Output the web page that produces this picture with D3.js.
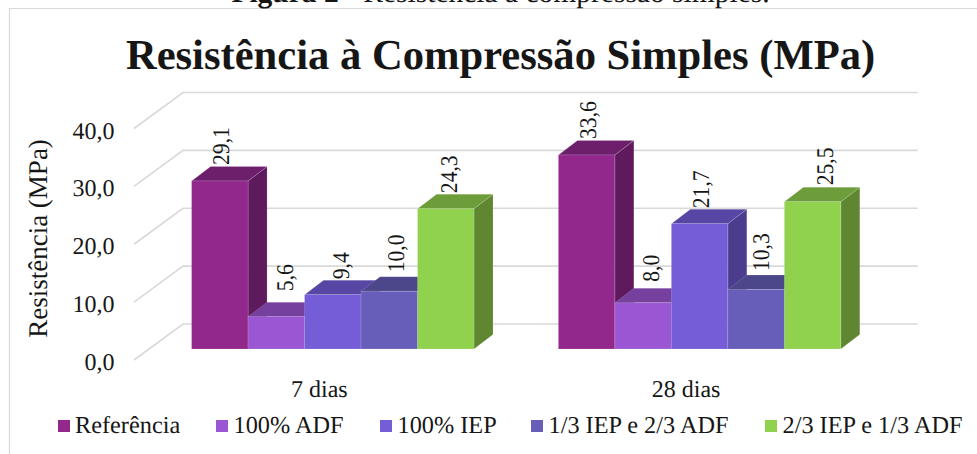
<!DOCTYPE html>
<html lang="pt">
<head>
<meta charset="utf-8">
<title>Resistência à Compressão Simples</title>
<script src="https://cdn.jsdelivr.net/npm/d3@7"></script>
<style>
  html, body { margin: 0; padding: 0; background: #fff; overflow: hidden; }
  svg { display: block; }
  text { font-family: "Liberation Serif", serif; fill: #161616; text-rendering: geometricPrecision; }
</style>
</head>
<body>
<script>
const categories = ["7 dias", "28 dias"];
const seriesNames = ["Referência", "100% ADF", "100% IEP", "1/3 IEP e 2/3 ADF", "2/3 IEP e 1/3 ADF"];
const values7 = [29.1, 5.6, 9.4, 10.0, 24.3];
const values28 = [33.6, 8.0, 21.7, 10.3, 25.5];
const yTicks = [0, 10, 20, 30, 40];

const frontColors = ["#92278c", "#9b57d3", "#755dd8", "#665eb8", "#90d24e"];
const topColors = ["#6e1f6c", "#76409f", "#5746a4", "#4c468a", "#6d9c3a"];
const sideColors = ["#5e1a5c", "#663689", "#4b3c8d", "#4a3d8b", "#5f8731"];

// Hand placement of the rotated value labels, per group and series: [dx, gap above the bar]
const labelNudge = [
  [[1, 1.5], [8.5, 11], [8, 1], [7, 4.5], [3, 1]],
  [[1.4, 1.5], [8, 6.5], [1.5, 1], [5, 4], [12, 2]]
];

const W = 977, H = 454;
const depth = { x: 19, y: 14.5 };
const wall = { x: 49, y: 36 };
const textSize = 24;

const svg = d3.select("body").append("svg").attr("width", W).attr("height", H);

const fmt = v => v.toFixed(1).replace(".", ",");

// Chart frame
svg.append("path")
  .attr("d", "M9.5 454V8.5H977")
  .attr("fill", "none").attr("stroke", "#d9d9d9").attr("stroke-width", 1.2);

function label(x, y, str, size, opts = {}) {
  const t = svg.append("text")
    .attr("transform", `translate(${x},${y})` + (opts.rotate ? ` scale(1,${opts.squeeze || 1}) rotate(-90)` : ""))
    .attr("font-size", size)
    .attr("text-anchor", opts.anchor || "middle")
    .attr("font-weight", opts.weight || null);
  if (typeof str === "string") t.text(str);
  else str.forEach(s => t.append("tspan").attr("font-weight", s[1]).text(s[0]));
  return t;
}

// Caption above the frame
label(500.5, 1.5, [["Figura 2", "bold"], [" - Resistência à compressão simples.", "normal"]], 29.5);

// Title
label(500.5, 69, "Resistência à Compressão Simples (MPa)", 42.6, { weight: "bold" });

// Scales
const baseY = 349;
const y = d3.scaleLinear().domain([0, 40]).range([baseY, baseY - 231]);
const x0 = d3.scaleBand().domain(categories).range([149.4, 883]).paddingInner(0.23).paddingOuter(0.115);
const x1 = d3.scaleBand().domain(seriesNames).range([0, x0.bandwidth()]);

// Gridlines on the back wall and the slanted side wall
const plot = { left: 134, right: 868.7, frontZero: 360 };
const gridY = d3.scaleLinear().domain([0, 40]).range([plot.frontZero, plot.frontZero - 231.5]);
svg.append("g").selectAll("path").data(yTicks).join("path")
  .attr("d", d => {
    const f = gridY(d);
    return `M${plot.left} ${f}L${plot.left + wall.x} ${f - wall.y}H${plot.right + wall.x}`;
  })
  .attr("fill", "none").attr("stroke", "#d9d9d9").attr("stroke-width", 1.6);

// Value axis labels
const axisG = svg.append("g").attr("transform", "translate(114.5,0)")
  .call(d3.axisLeft(gridY).tickValues(yTicks).tickFormat(fmt).tickSize(0).tickPadding(0));
axisG.select(".domain").remove();
axisG.selectAll("text")
  .attr("font-size", textSize)
  .attr("dy", "0.4em")
  .attr("x", 0)
  .attr("text-anchor", "end")
  .style("font-family", '"Liberation Serif", serif');

// Value axis title
label(47, 238.5, "Resistência (MPa)", 27, { rotate: true });

// Bars as three faces: front, top and side, painted left to right
const allValues = [values7, values28];
const barEdge = "rgba(255,255,255,0.25)";
categories.forEach((cat, g) => {
  const group = svg.append("g");
  allValues[g].forEach((v, i) => {
    const name = seriesNames[i];
    const xL = x0(cat) + x1(name), xR = xL + x1.bandwidth(), yT = y(v), yB = y(0);
    group.append("path")
      .attr("d", `M${xR} ${yT}L${xR + depth.x} ${yT - depth.y}V${yB - depth.y}L${xR} ${yB}Z`)
      .attr("fill", sideColors[i]).attr("stroke", barEdge).attr("stroke-width", 0.6);
    group.append("path")
      .attr("d", `M${xL} ${yT}L${xL + depth.x} ${yT - depth.y}H${xR + depth.x}L${xR} ${yT}Z`)
      .attr("fill", topColors[i]).attr("stroke", barEdge).attr("stroke-width", 0.6);
    group.append("rect")
      .attr("x", xL).attr("y", yT).attr("width", x1.bandwidth()).attr("height", yB - yT)
      .attr("fill", frontColors[i]).attr("stroke", barEdge).attr("stroke-width", 0.6);
  });
});

// Rotated value labels sit on top of all bars
categories.forEach((cat, g) => {
  allValues[g].forEach((v, i) => {
    const name = seriesNames[i];
    const [dx, gap] = labelNudge[g][i];
    const cx = x0(cat) + x1(name) + x1.bandwidth() / 2 + dx;
    const bottom = y(v) - depth.y - gap;
    label(cx + 8, bottom, fmt(v), textSize, { rotate: true, anchor: "start", squeeze: 0.9 });
  });
});

// Category labels
categories.forEach(cat => {
  label(x0(cat) + x0.bandwidth() / 2 - 13.5, 396.5, cat, textSize);
});

// Legend
const legendSwatch = [58, 216, 380, 531, 765];
const legendY = 420, swatch = 12;
seriesNames.forEach((name, i) => {
  svg.append("rect")
    .attr("x", legendSwatch[i]).attr("y", legendY)
    .attr("width", swatch).attr("height", swatch)
    .attr("fill", frontColors[i]);
  label(legendSwatch[i] + swatch + (i === 0 ? 5 : 5.5), 433, name, 24.3, { anchor: "start" });
});
</script>
</body>
</html>
